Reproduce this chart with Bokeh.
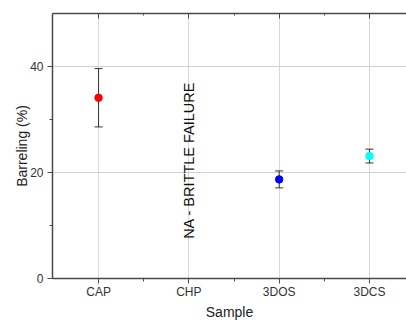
import math
from bokeh.plotting import figure
from bokeh.models import (ColumnDataSource, FixedTicker, LinearAxis, Whisker,
                          TeeHead, Range1d, Title)
from bokeh.core.properties import value
from bokeh.embed import file_html
from bokeh.resources import INLINE

# ---- data ----
samples = ["CAP", "CHP", "3DOS", "3DCS"]
means = [34.1, float("nan"), 18.7, 23.1]
errors = [5.5, float("nan"), 1.6, 1.3]
colors = ["#ff0000", "#000000", "#0000ff", "#00ffff"]
y_ticks = [0, 20, 40]
y_minor = [10, 30]
note_sample = "CHP"
note_text = "NA - BRITTLE FAILURE"

FONT = "Liberation Sans"
AX = "#4a4a4a"

xs = list(range(1, len(samples) + 1))
valid = [i for i in range(len(samples)) if not math.isnan(means[i])]
src = ColumnDataSource(dict(
    x=[xs[i] for i in valid],
    y=[means[i] for i in valid],
    lo=[means[i] - errors[i] for i in valid],
    hi=[means[i] + errors[i] for i in valid],
    c=[colors[i] for i in valid],
))

p = figure(width=406, height=320, output_backend="svg", toolbar_location=None,
           x_range=Range1d(0.49, 4.41), y_range=Range1d(0, 50),
           min_border_left=52, min_border_right=0, min_border_top=13,
           min_border_bottom=42)
p.outline_line_color = None
p.background_fill_color = "white"
p.border_fill_color = "white"

# axes
xt = FixedTicker(ticks=xs, minor_ticks=[1.5, 2.5, 3.5])
yt = FixedTicker(ticks=y_ticks, minor_ticks=y_minor)
p.xaxis.ticker = xt
p.yaxis.ticker = yt
p.xaxis.major_label_overrides = {x: s for x, s in zip(xs, samples)}
p.yaxis.axis_label = "Barreling (%)"
for ax in (p.xaxis, p.yaxis):
    ax.axis_line_color = AX
    ax.axis_line_width = 1.5
    ax.major_tick_line_color = AX
    ax.minor_tick_line_color = AX
    ax.major_tick_in = 0
    ax.major_tick_out = 5
    ax.minor_tick_in = 0
    ax.minor_tick_out = 3
    ax.major_label_text_font = FONT
    ax.major_label_text_font_size = "12px"
    ax.major_label_text_color = "#333333"
    ax.axis_label_text_font = FONT
    ax.axis_label_text_font_size = "14px"
    ax.axis_label_text_font_style = "normal"
    ax.axis_label_text_color = "#222222"
p.xaxis.major_label_standoff = 1
p.yaxis.major_label_standoff = 4
p.yaxis.axis_label_standoff = -3

top = LinearAxis(ticker=FixedTicker(ticks=xs, minor_ticks=[1.5, 2.5, 3.5]))
top.axis_line_color = AX
top.axis_line_width = 1.5
top.major_tick_line_color = AX
top.minor_tick_line_color = AX
top.major_tick_in = 5
top.major_tick_out = 0
top.minor_tick_in = 2
top.minor_tick_out = 0
top.major_label_text_font_size = "0px"
top.major_label_standoff = 0
top.major_label_overrides = {x: "" for x in xs}
p.add_layout(top, "above")

# x axis title, centred on the full original frame
xtitle = Title(text="Sample", align="center", offset=4, standoff=0,
               text_font=FONT, text_font_size="14px", text_font_style="normal",
               text_color="#222222")
p.add_layout(xtitle, "below")

# grid
p.xgrid.ticker = xt
p.ygrid.ticker = yt
p.xgrid.grid_line_color = "#d8d8d8"
p.ygrid.grid_line_color = "#d0d0d0"
p.xgrid.grid_line_width = 1
p.ygrid.grid_line_width = 1

# error bars
w = Whisker(source=src, base="x", lower="lo", upper="hi",
            line_color="#333333", line_width=1,
            upper_head=TeeHead(size=8, line_color="#333333", line_width=1),
            lower_head=TeeHead(size=8, line_color="#333333", line_width=1))
p.add_layout(w)
p.scatter("x", "y", source=src, size=7.5, fill_color="c", line_color="c")

# note
nx = xs[samples.index(note_sample)]
p.text(x=[nx], y=[22.3], text=[note_text], angle=math.pi / 2,
       text_align="center", text_baseline="middle",
       text_font=value(FONT), text_font_size="14.5px", text_color="#111111")

open("out.html", "w").write(file_html(p, INLINE))
